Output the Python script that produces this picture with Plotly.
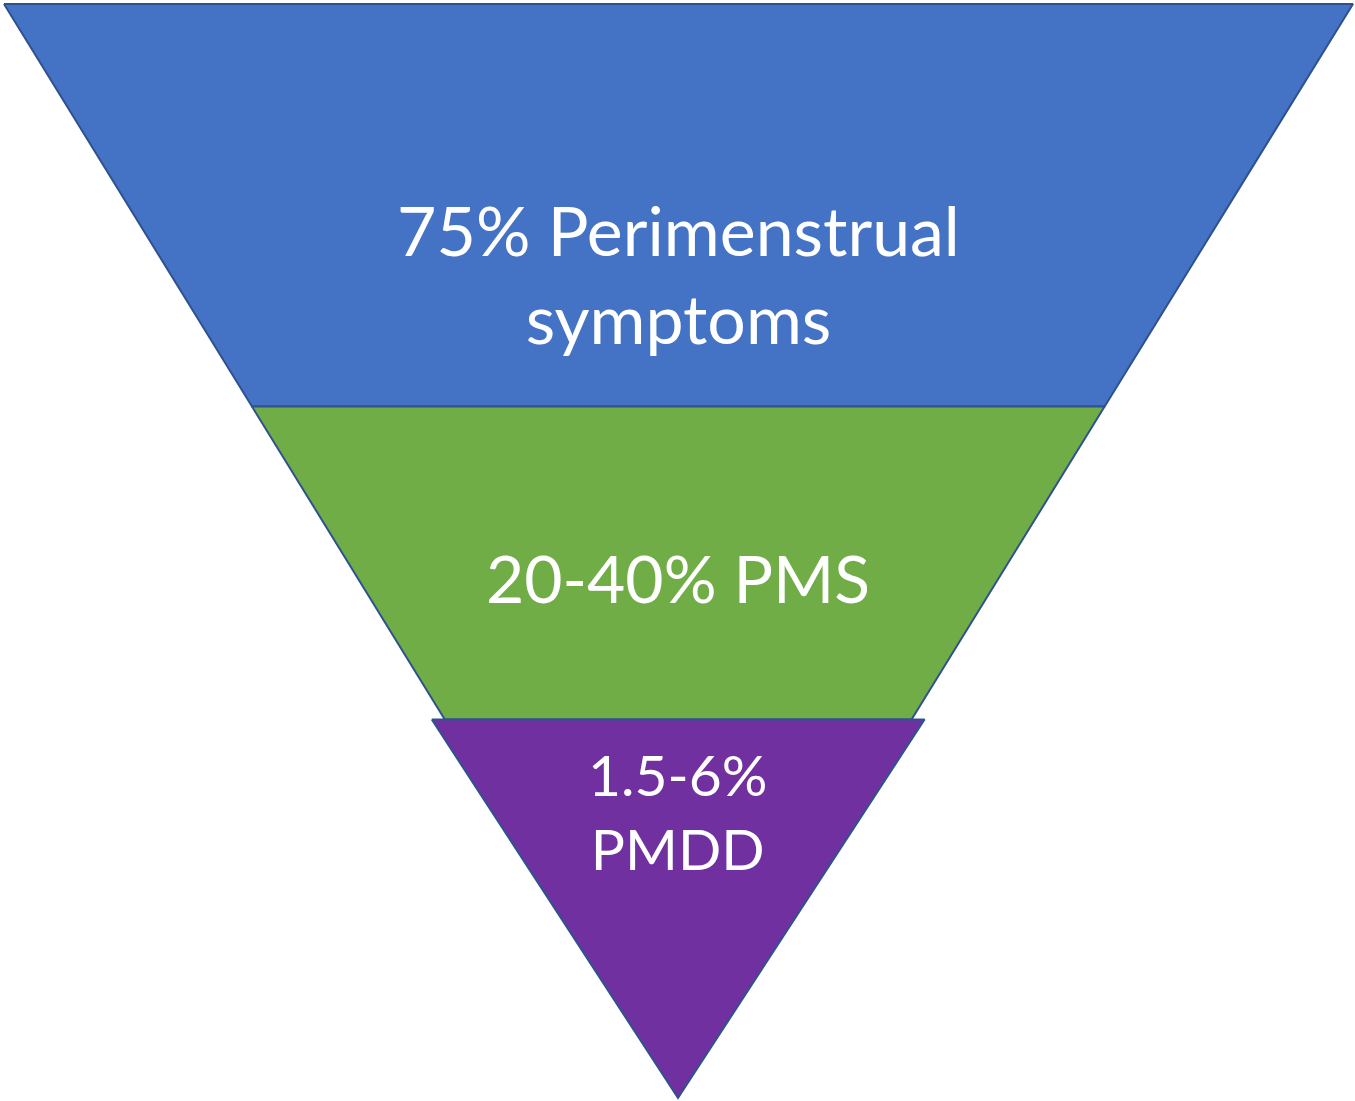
import plotly.graph_objects as go

# ---- data ----
tier_labels = ["75% Perimenstrual<br>symptoms", "20-40% PMS", "1.5-6%<br>PMDD"]
tier_bounds = [0.0, 0.368, 0.654, 1.0]   # fraction of funnel depth where each tier starts/ends
tier_colors = ["#4472C4", "#70AD47", "#7030A0"]
tier_widen = [0, 0, 13]                   # small extra width at the top of a tier (px)
label_offset = [68, 14, -98]              # vertical offset of label from tier middle (px)
label_size = [68, 66, 57]

# ---- geometry of the inverted triangle (in pixel units of the canvas) ----
W, H = 1355, 1101
top_y, apex_y = 4, 1098
left_x, right_x, apex_x = 4, 1353, 678
outline = "#2F528F"

def x_at(y):
    f = (y - top_y) / (apex_y - top_y)
    return left_x + (apex_x - left_x) * f, right_x - (right_x - apex_x) * f

fig = go.Figure()
for i, lab in enumerate(tier_labels):
    y0 = top_y + tier_bounds[i] * (apex_y - top_y)
    y1 = top_y + tier_bounds[i + 1] * (apex_y - top_y)
    l0, r0 = x_at(y0)
    l1, r1 = x_at(y1)
    l0 -= tier_widen[i]
    r0 += tier_widen[i]
    xs = [l0, r0, r1, l1, l0]
    ys = [y0, y0, y1, y1, y0]
    fig.add_trace(go.Scatter(x=xs, y=ys, mode="lines", fill="toself",
                             fillcolor=tier_colors[i],
                             line=dict(color=outline, width=2),
                             hoverinfo="skip", showlegend=False))
    yc = (y0 + y1) / 2 + label_offset[i]
    fig.add_annotation(x=apex_x, y=yc, text=lab, showarrow=False,
                       font=dict(family="Lato", size=label_size[i], color="white"),
                       align="center", xanchor="center", yanchor="middle")

fig.update_layout(width=W, height=H, margin=dict(l=0, r=0, t=0, b=0),
                  paper_bgcolor="white", plot_bgcolor="white",
                  xaxis=dict(range=[0, W], visible=False, fixedrange=True),
                  yaxis=dict(range=[H, 0], visible=False, fixedrange=True))
fig.write_html("out.html", config={"displayModeBar": False},
               post_script="document.body.style.margin='0';document.body.style.overflow='hidden';")
